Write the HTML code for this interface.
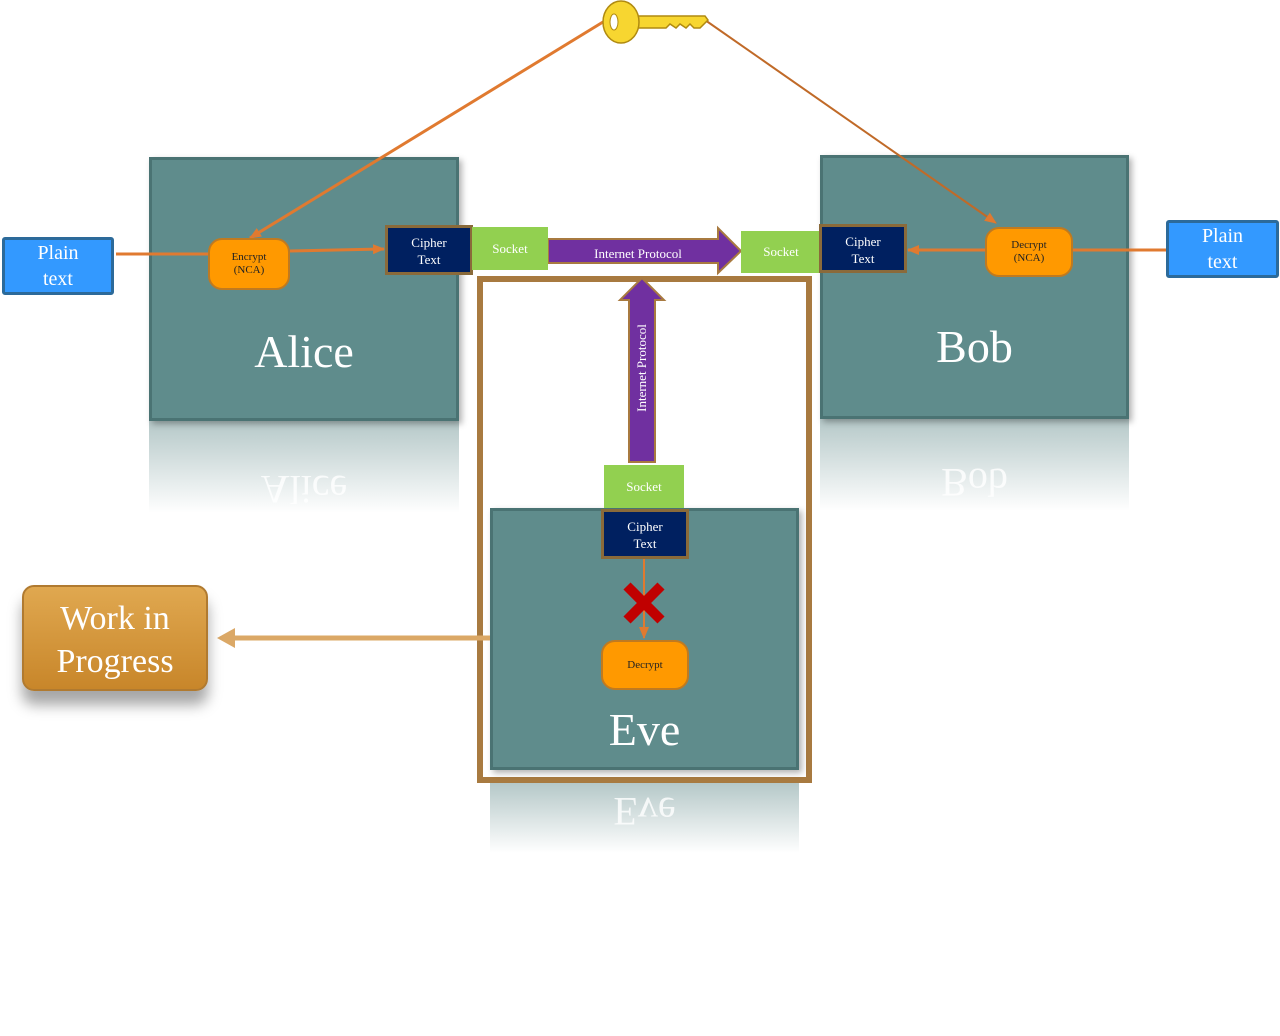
<!DOCTYPE html>
<html><head><style>
body{margin:0;width:1280px;height:1036px;background:#fff;position:relative;overflow:hidden;font-family:"Liberation Serif",serif}
.a{position:absolute;box-sizing:border-box}
.box{background:#5f8c8c;border:3px solid #4a7373;box-shadow:3px 3px 6px rgba(0,0,0,.3)}
.big{color:#fff;font-size:46px;text-align:center;position:absolute;width:100%}
.ref{background:linear-gradient(#b5c8c8,rgba(255,255,255,0));color:rgba(255,255,255,.8);font-size:40px;text-align:center;overflow:hidden}
.ref span{display:inline-block;transform:scaleY(-1)}
.ct{background:#002060;border:3px solid #8a6a3a;color:#fff;font-size:13px;text-align:center;line-height:17px;padding-top:6px}
.sk{background:#92d050;color:#fff;font-size:13px;text-align:center}
.or{background:#ff9900;border:2px solid #c07a20;border-radius:14px;color:#222;font-size:11px;text-align:center;line-height:13px}
.pt{background:#3399ff;border:3px solid #2c6a9a;color:#fff;font-size:20px;text-align:center;line-height:26px}
</style></head><body>
<div class="a ref" style="left:149px;top:421px;width:310px;height:92px;padding-top:45px"><span>Alice</span></div>
<div class="a ref" style="left:820px;top:419px;width:309px;height:92px;padding-top:40px"><span>Bob</span></div>
<div class="a ref" style="left:490px;top:783px;width:309px;height:70px;padding-top:5px"><span>Eve</span></div>
<div class="a box" style="left:149px;top:157px;width:310px;height:264px"><div class="big" style="top:165px">Alice</div></div>
<div class="a box" style="left:820px;top:155px;width:309px;height:264px"><div class="big" style="top:162px">Bob</div></div>
<div class="a" style="left:477px;top:276px;width:335px;height:507px;border:6px solid #a87a40"></div>
<div class="a box" style="left:490px;top:508px;width:309px;height:262px"><div class="big" style="top:192px">Eve</div></div>

<div class="a pt" style="left:2px;top:237px;width:112px;height:58px;border-radius:3px">Plain<br>text</div>
<div class="a pt" style="left:1166px;top:220px;width:113px;height:58px;border-radius:3px">Plain<br>text</div>

<svg class="a" style="left:0;top:0" width="1280" height="1036">
<defs>
<marker id="m" markerUnits="userSpaceOnUse" markerWidth="12" markerHeight="10" refX="11" refY="5" orient="auto"><path d="M0,0L12,5L0,10z" fill="#e07a30"/></marker>
</defs>
<g stroke="#e07a30" stroke-width="3" fill="none">
<line x1="603" y1="22" x2="250" y2="238" marker-end="url(#m)"/>
<line x1="705" y1="20" x2="996" y2="223" marker-end="url(#m)" stroke-width="2" stroke="#c06a28"/>
<line x1="116" y1="254" x2="208" y2="254"/>
<line x1="290" y1="251" x2="384" y2="249" marker-end="url(#m)"/>
<line x1="985" y1="250" x2="908" y2="250" marker-end="url(#m)"/>
<line x1="1073" y1="250" x2="1166" y2="250"/>
<line x1="644" y1="558" x2="644" y2="638" marker-end="url(#m)" stroke-width="2"/>
</g>
<path d="M548,239H718V228L741,251L718,273V263H548Z" fill="#7030a0" stroke="#a87a40" stroke-width="2"/>
<path d="M629,462V300H620L642,278L664,300H655V462Z" fill="#7030a0" stroke="#a87a40" stroke-width="2"/>
<text x="638" y="258" fill="#fff" font-size="13" text-anchor="middle" font-family="Liberation Serif">Internet Protocol</text>
<text transform="translate(646,368) rotate(-90)" fill="#fff" font-size="13" text-anchor="middle" font-family="Liberation Serif">Internet Protocol</text>
<line x1="490" y1="638" x2="230" y2="638" stroke="#dba866" stroke-width="5"/>
<path d="M217,638L235,628V648Z" fill="#dba866"/>
<path d="M627,586L644,603L661,586M627,620L644,603L661,620" stroke="#c00000" stroke-width="10" fill="none"/>
<g fill="#f7d630" stroke="#b08a10" stroke-width="1.5">
<path d="M636,16H705L708,20L700,28H694L690,24L686,28L680,24L676,28L670,24L666,28H636Z"/>
<ellipse cx="621" cy="22" rx="18" ry="21"/>
</g>
<ellipse cx="614" cy="22" rx="4" ry="8" fill="#fff" stroke="#b08a10"/>
</svg>

<div class="a or" style="left:208px;top:238px;width:82px;height:52px;padding-top:11px">Encrypt<br>(NCA)</div>
<div class="a or" style="left:985px;top:227px;width:88px;height:50px;padding-top:10px">Decrypt<br>(NCA)</div>
<div class="a or" style="left:601px;top:640px;width:88px;height:50px;padding-top:17px">Decrypt</div>
<div class="a ct" style="left:385px;top:225px;width:88px;height:50px">Cipher<br>Text</div>
<div class="a sk" style="left:472px;top:227px;width:76px;height:43px;line-height:43px">Socket</div>
<div class="a sk" style="left:741px;top:231px;width:80px;height:42px;line-height:42px">Socket</div>
<div class="a ct" style="left:819px;top:224px;width:88px;height:49px">Cipher<br>Text</div>
<div class="a sk" style="left:604px;top:465px;width:80px;height:43px;line-height:43px">Socket</div>
<div class="a ct" style="left:601px;top:509px;width:88px;height:50px">Cipher<br>Text</div>

<div class="a" style="left:22px;top:585px;width:186px;height:106px;border-radius:12px;background:linear-gradient(#e0a850,#c8862a);border:2px solid #b07a30;box-shadow:0 14px 14px rgba(0,0,0,.35);color:#fff;font-size:34px;line-height:43px;text-align:center;padding-top:10px">Work in<br>Progress</div>
</body></html>
